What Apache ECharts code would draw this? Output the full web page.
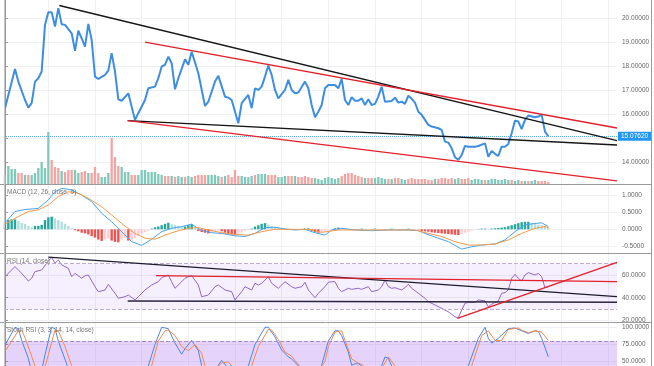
<!DOCTYPE html>
<html><head><meta charset="utf-8">
<script src="https://cdn.jsdelivr.net/npm/echarts@6/dist/echarts.min.js"></script>
<style>html,body{margin:0;padding:0;background:#fff}#c{width:654px;height:366px}</style>
</head><body><div id="c"></div>
<script>
// ---------- data (bar index, value) ----------
const priceLine = [[0,16.25],[3,17.89],[4,17.36],[6,16.59],[7,16.27],[8,16.46],[9,17.36],[10,17.50],[11,17.78],[12,19.73],[13,20.26],[14,20.26],[15,19.66],[16,20.43],[17,19.76],[18,19.73],[20,19.38],[21,18.65],[22,19.49],[23,19.17],[24,18.82],[25,19.77],[26,19.10],[27,17.57],[28,17.47],[30,17.64],[31,17.82],[32,18.55],[33,17.78],[34,16.62],[35,16.56],[37,16.87],[38,16.31],[39,15.76],[40,16.04],[42,16.59],[43,17.08],[45,17.15],[46,17.50],[47,17.99],[48,18.06],[49,18.40],[50,18.13],[51,17.04],[52,17.50],[54,18.29],[55,18.06],[56,18.61],[58,17.71],[60,16.34],[61,16.52],[63,17.36],[64,17.60],[66,16.73],[67,16.69],[68,16.59],[70,15.62],[71,16.46],[73,16.80],[74,16.25],[75,17.08],[76,17.01],[77,17.15],[78,17.57],[79,18.03],[80,17.64],[81,17.01],[82,16.66],[84,17.01],[85,17.43],[86,17.01],[87,16.87],[88,16.90],[90,17.36],[91,17.08],[92,16.38],[93,15.87],[94,16.10],[95,16.38],[96,17.08],[97,17.22],[99,17.22],[100,17.08],[101,17.47],[102,16.59],[103,16.38],[104,16.71],[105,16.56],[106,16.56],[107,16.66],[108,16.38],[109,16.62],[110,16.38],[111,16.43],[112,16.73],[113,17.15],[114,16.52],[116,16.55],[117,16.69],[118,16.48],[119,16.52],[120,16.43],[121,16.77],[122,16.64],[123,16.48],[124,16.10],[125,15.97],[127,15.55],[128,15.48],[130,15.41],[131,15.34],[132,14.85],[133,14.81],[134,14.57],[135,14.20],[136,14.09],[137,14.29],[138,14.67],[139,14.64],[141,14.64],[142,14.67],[144,14.78],[145,14.22],[146,14.46],[147,14.34],[148,14.25],[149,14.64],[150,14.64],[151,14.75],[152,15.20],[153,15.73],[154,15.69],[155,15.37],[156,15.76],[157,15.94],[159,15.87],[160,15.90],[161,15.97],[162,15.27],[163,15.0762]];
const lastPrice = 15.0762;

const trendBlackUpper = [[16.3,20.54],[183.6,14.89]];
const trendRedUpper   = [[42.0,19.01],[183.6,15.42]];
const trendBlackLower = [[36.8,15.73],[183.6,14.71]];
const trendRedLower   = [[36.8,15.73],[183.6,13.21]];

const volume = [9,18,15,15,11,11,9,9,9,11, 16,22,16,52,24,17,16,13,12,14, 14,14,11,12,13,11,11,17,11,7, 7,11,46,27,18,17,12,12,9,9, 9,14,14,12,12,12,10,9,8,8, 8,7,8,7,7,8,7,8,9,9, 9,9,9,9,8,7,8,9,7,14, 8,8,7,7,8,9,10,10,10,9, 9,9,7,7,8,8,8,8,7,7, 8,7,6,6,5,4,6,7,6,5, 6,8,10,11,11,9,8,7,6,6, 6,6,7,6,5,5,5,6,6,5, 4,5,6,5,5,5,5,4,4,5, 5,6,6,5,6,5,6,5,5,6, 4,5,5,4,4,4,5,5,4,4, 5,4,4,3,4,3,3,3,3,4, 3,3,3,2];
const volumeDir = "ggggrrgrgg"+"ggggrrrgrr"+"rggrrgrrrg"+"ggrrrgggrr"+"ggggggggrr"+"grggrggrrr"+"rggggrgrrr"+"rggggrgggr"+"rrgggrrgrr"+"rrrggggggg"+"grrrrrrrgr"+"rggggrgrrg"+"grrrrrrrrg"+"rrrrrggrrr"+"ggggrggggg"+"ggrggrgrgg"+"rrrr";

const macdLine = [[0,0.19],[3,0.52],[6,0.58],[10,0.61],[13,0.86],[15,1.10],[17,1.20],[20,1.15],[23,1.00],[26,0.81],[29,0.47],[32,0.22],[35,-0.07],[38,-0.36],[41,-0.47],[44,-0.29],[47,-0.07],[50,0.03],[53,0.08],[56,0.15],[59,-0.04],[62,-0.10],[65,-0.12],[69,-0.19],[72,-0.21],[75,-0.12],[78,0.05],[81,0.06],[84,0.01],[87,-0.02],[90,0.00],[93,-0.10],[96,-0.17],[98,-0.02],[101,0.03],[105,-0.02],[110,-0.04],[115,-0.02],[120,-0.02],[124,-0.04],[126,-0.12],[129,-0.23],[133,-0.36],[137,-0.58],[140,-0.51],[143,-0.46],[147,-0.43],[150,-0.31],[153,-0.07],[156,0.13],[159,0.17],[161,0.19],[163,0.08]];
const signalLine = [[0,0.15],[3,0.32],[7,0.52],[10,0.57],[13,0.71],[16,0.96],[19,1.10],[22,1.05],[25,0.91],[29,0.66],[32,0.42],[35,0.17],[39,-0.12],[42,-0.26],[45,-0.29],[48,-0.17],[51,-0.07],[55,0.03],[58,0.05],[61,-0.02],[65,-0.10],[69,-0.15],[73,-0.17],[77,-0.07],[81,0.00],[86,0.00],[91,0.00],[95,-0.09],[100,-0.02],[105,-0.02],[115,-0.02],[123,-0.02],[127,-0.12],[131,-0.21],[135,-0.36],[139,-0.46],[143,-0.46],[147,-0.43],[151,-0.31],[155,-0.12],[159,0.03],[162,0.08],[163,0.05]];
const macdHist = [0.19,0.27,0.29,0.29,0.24,0.19,0.16,0.10,0.06,0.10, 0.10,0.13,0.27,0.35,0.37,0.32,0.27,0.22,0.16,0.10, 0.03,-0.03,-0.06,-0.10,-0.12,-0.15,-0.20,-0.24,-0.30,-0.34, -0.30,-0.27,-0.33,-0.37,-0.38,-0.30,-0.25,-0.33,-0.33,-0.26, -0.20,-0.14,-0.08,-0.04,0.02,0.06,0.08,0.12,0.16,0.19, 0.15,0.12,0.10,0.08,0.08,0.12,0.15,0.05,-0.05,-0.08, -0.10,-0.12,-0.08,-0.05,-0.03,-0.06,-0.10,-0.13,-0.15,-0.16, -0.12,-0.08,-0.05,-0.02,0.02,0.08,0.12,0.16,0.18,0.14, 0.10,0.07,0.04,0.03,0.02,0.01,0.01,0.00,-0.01,-0.02, 0.02,0.03,-0.05,-0.08,-0.10,-0.08,-0.06,-0.04,-0.02,0.03, 0.05,0.04,0.02,0.01,0.00,-0.01,0.01,0.02,0.01,0.00, 0.01,0.02,0.01,0.00,-0.01,0.01,0.02,0.01,0.00,-0.01, 0.01,0.02,0.01,0.00,-0.01,-0.05,-0.06,-0.07,-0.09,-0.10, -0.11,-0.12,-0.13,-0.14,-0.15,-0.16,-0.17,-0.13,-0.10,-0.07, -0.04,-0.02,0.01,0.02,0.02,0.01,0.02,0.03,0.04,0.05, 0.06,0.09,0.12,0.15,0.18,0.21,0.22,0.22,0.19,0.17, 0.14,0.12,0.09,0.06];

const rsiLine = [[0,58.5],[3,67.4],[5,61.5],[7,54.7],[8,57.1],[9,63.0],[11,64.4],[13,72.4],[14,75.3],[15,70.4],[16,73.3],[17,68.9],[19,65.9],[20,58.5],[21,61.5],[23,57.1],[24,59.4],[25,60.0],[27,49.7],[28,45.3],[30,46.8],[31,51.8],[33,43.9],[34,39.5],[36,40.9],[37,42.4],[39,38.0],[40,40.9],[42,46.8],[44,51.2],[46,54.1],[47,57.7],[49,60.0],[50,54.1],[51,48.3],[53,54.1],[54,57.1],[55,58.5],[56,59.4],[58,51.2],[59,40.9],[61,42.4],[63,49.7],[64,51.2],[66,46.8],[68,45.3],[69,38.0],[71,45.3],[72,49.7],[74,46.8],[75,52.7],[76,51.2],[77,52.7],[79,58.5],[80,52.7],[82,48.3],[83,51.2],[84,54.1],[86,49.7],[87,48.3],[89,49.7],[90,53.6],[91,46.8],[93,40.0],[94,43.9],[96,49.7],[97,53.6],[98,54.1],[99,54.1],[100,48.3],[101,45.3],[103,48.3],[104,47.4],[106,48.3],[107,47.4],[109,49.7],[110,45.3],[112,46.8],[113,49.7],[114,55.6],[115,49.7],[116,48.3],[117,48.8],[119,46.8],[120,48.8],[121,51.8],[122,48.3],[124,43.9],[126,39.5],[127,36.5],[129,33.6],[131,30.6],[133,27.6],[135,23.2],[136,22.3],[137,29.1],[138,35.1],[139,35.9],[141,35.9],[142,38.0],[144,37.2],[145,32.1],[146,34.2],[147,35.9],[148,37.2],[149,43.9],[150,44.5],[151,46.8],[152,57.1],[153,60.6],[154,57.1],[155,54.7],[156,60.0],[157,62.1],[159,60.0],[160,61.5],[161,58.5],[162,48.8],[163,49.7]];
const rsiTrendBlackDown = [[13.0,75.7],[183.6,40.9]];
const rsiTrendRedFlat   = [[45.3,59.4],[183.6,54.1]];
const rsiTrendBlackFlat = [[36.8,37.1],[183.6,35.9]];
const rsiTrendRedUp     = [[135.7,21.8],[183.6,71.2]];

const stochK = [[0,74],[3,100],[4,98],[5,81],[7,55],[8,35],[10,15],[12,60],[14,100],[15,98],[16,80],[19,40],[22,10],[26,5],[30,20],[34,8],[38,15],[41,5],[43,44],[45,75],[47,100],[49,98],[51,77],[53,61],[54,69],[56,81],[58,66],[59,44],[61,30],[64,45],[65,52],[67,40],[70,20],[73,44],[75,75],[78,100],[79,100],[81,86],[83,67],[85,57],[86,54],[88,44],[91,20],[95,45],[97,80],[99,95],[100,95],[101,88],[103,64],[104,45],[105,47],[106,47],[107,44],[110,25],[113,44],[114,57],[115,55],[116,44],[120,20],[125,8],[130,3],[134,10],[139,44],[142,84],[144,100],[145,84],[146,77],[148,84],[151,98],[153,99],[155,95],[157,91],[159,95],[160,94],[161,84],[163,57]];
const stochD = [[0,65],[4,95],[5,96],[6,85],[8,58],[10,30],[11,25],[13,60],[15,96],[16,95],[18,72],[20,44],[23,15],[27,8],[31,16],[35,10],[39,12],[42,8],[44,44],[46,80],[48,95],[49,96],[51,88],[53,72],[55,66],[57,75],[59,62],[60,44],[62,35],[65,48],[67,50],[69,38],[71,25],[74,44],[76,72],[79,97],[80,96],[82,82],[84,64],[86,58],[87,52],[89,40],[92,25],[96,50],[97,72],[99,93],[101,95],[102,81],[104,54],[106,48],[107,46],[108,42],[111,28],[113,40],[115,57],[117,44],[121,22],[126,10],[131,5],[135,12],[140,44],[143,88],[145,95],[147,81],[149,81],[151,97],[154,99],[155,96],[157,92],[159,95],[161,93],[163,81]];

const weekTicks  = [13,27,41,55,69,83,97,111,125,139,153,167,181];
const priceTicks = [14,15,16,17,18,19,20];
const priceLabels= [14,16,17,18,19,20];
const macdTicks  = [-0.5,0,0.5,1];
const rsiTicks   = [20,40,60];
const stochTicks = [50,75,100];
const rsiBand = [30,70];
const stochBand = [20,80];

// ---------- styling ----------
const FONT = 'Liberation Sans, Arial, sans-serif';
const AX = '#9a9a9a', GRID = '#eef0f4';
const GREEN = '#7fc9bb', RED = '#f3a3a1';
const chart = echarts.init(document.getElementById('c'), null, {renderer:'canvas'});

const xMin = -0.3, xMax = 183.6;
function xAx(gi, split){
  return {type:'value', gridIndex:gi, min:xMin, max:xMax,
    axisLine:{show:false}, axisLabel:{show:false},
    axisTick:{show:false, customValues: weekTicks},
    splitLine:{show:split, lineStyle:{color:GRID, width:1}}};
}
function yAx(gi, min, max, ticks, labels, dec){
  return {type:'value', gridIndex:gi, position:'right', min:min, max:max,
    axisLine:{show:true, lineStyle:{color:AX, width:1}},
    axisTick:{show:true, length:3, lineStyle:{color:AX}, customValues: ticks},
    axisLabel:{customValues: labels, formatter: v => v.toFixed(dec), fontSize:6.5, color:'#666', margin:5, fontFamily:FONT},
    splitLine:{show:true, lineStyle:{color:GRID, width:1}}};
}
function seg(data, xi, color, w){
  return {type:'line', xAxisIndex:xi, yAxisIndex:xi, data:data, symbol:'none', silent:true,
    lineStyle:{color:color, width:w||1.4}, z:6};
}

const volData = volume.map((v,i)=>({value:[i,v], itemStyle:{color: volumeDir[i]==='g'?GREEN:RED}}));
const histData = macdHist.map((v,i)=>{
  const prev = i>0 ? macdHist[i-1] : v;
  let c;
  if (v >= 0) c = (v >= prev) ? '#26a69a' : '#b2dfdb';
  else c = (v < prev) ? '#ef5350' : '#ffcdd2';
  return {value:[i,v], itemStyle:{color:c}};
});

const option = {
  animation:false,
  backgroundColor:'#ffffff',
  textStyle:{fontFamily:FONT},
  title:[
    {text:'MACD (12, 26, close, 9)', left:7, top:189, padding:0, textStyle:{fontSize:6.5, fontWeight:'normal', color:'#777', fontFamily:FONT}},
    {text:'RSI (14, close)', left:7, top:258, padding:0, textStyle:{fontSize:6.5, fontWeight:'normal', color:'#777', fontFamily:FONT}},
    {text:'Stoch RSI (3, 3, 14, 14, close)', left:7, top:327, padding:0, textStyle:{fontSize:6.5, fontWeight:'normal', color:'#777', fontFamily:FONT}}
  ],
  grid:[
    {left:4, right:37, top:0, height:184},
    {left:4, right:37, top:84, height:100},
    {left:4, right:37, top:184, height:69},
    {left:4, right:37, top:253, height:69},
    {left:4, right:37, top:322, height:44}
  ],
  xAxis:[xAx(0,true), xAx(1,false), xAx(2,true), xAx(3,true), xAx(4,true)],
  yAxis:[
    yAx(0, 13.08, 20.77, priceTicks, priceLabels, 5),
    {type:'value', gridIndex:1, min:0, max:100, show:false, splitLine:{show:false}},
    yAx(2, -0.693, 1.325, macdTicks, macdTicks, 4),
    yAx(3, 18.6, 79.4, rsiTicks, rsiTicks, 4),
    yAx(4, 43.75, 107.7, stochTicks, stochTicks, 4)
  ],
  graphic:[
    {type:'line', shape:{x1:0,y1:184.5,x2:651,y2:184.5}, style:{stroke:AX, lineWidth:1}, z:50},
    {type:'line', shape:{x1:0,y1:253.5,x2:651,y2:253.5}, style:{stroke:AX, lineWidth:1}, z:50},
    {type:'line', shape:{x1:0,y1:322.5,x2:651,y2:322.5}, style:{stroke:AX, lineWidth:1}, z:50},
    {type:'line', shape:{x1:651.5,y1:0,x2:651.5,y2:366}, style:{stroke:AX, lineWidth:1}, z:50},
    {type:'line', shape:{x1:4.5,y1:0,x2:4.5,y2:366}, style:{stroke:'#c4c4c4', lineWidth:1}, z:50}
  ],
  series:[
    {type:'bar', xAxisIndex:1, yAxisIndex:1, data:volData, barWidth:2.3, silent:true, z:1},
    {type:'line', xAxisIndex:0, yAxisIndex:0, data:priceLine, symbol:'none', silent:true, z:5,
      lineStyle:{color:'#3d8ee3', width:2},
      markLine:{silent:true, symbol:['none','none'], precision:5,
        lineStyle:{type:'dotted', color:'#5fa3ec', width:1},
        label:{show:true, position:'end', distance:1, formatter: () => lastPrice.toFixed(5),
          backgroundColor:'#2196f3', color:'#fff', fontSize:6.5, padding:[1,3,1,3], fontFamily:FONT},
        data:[{yAxis:lastPrice}]}},
    seg(trendBlackUpper, 0, '#151515'),
    seg(trendRedUpper, 0, '#e3202b'),
    seg(trendBlackLower, 0, '#151515'),
    seg(trendRedLower, 0, '#e3202b'),
    {type:'bar', xAxisIndex:2, yAxisIndex:2, data:histData, barWidth:2.4, silent:true, z:2},
    {type:'line', xAxisIndex:2, yAxisIndex:2, data:macdLine, symbol:'none', silent:true, lineStyle:{color:'#4aa3ea', width:1}, z:4},
    {type:'line', xAxisIndex:2, yAxisIndex:2, data:signalLine, symbol:'none', silent:true, lineStyle:{color:'#f39a4c', width:1}, z:4},
    {type:'line', xAxisIndex:3, yAxisIndex:3, data:rsiLine, symbol:'none', silent:true, lineStyle:{color:'#9467c8', width:1}, z:4,
      markArea:{silent:true, itemStyle:{color:'rgba(150,80,240,0.09)'}, data:[[{yAxis:rsiBand[0]},{yAxis:rsiBand[1]}]]},
      markLine:{silent:true, symbol:['none','none'], label:{show:false}, lineStyle:{type:'dashed', color:'#bfaed3', width:1},
        data:[{yAxis:rsiBand[0]},{yAxis:rsiBand[1]}]}},
    {type:'line', xAxisIndex:3, yAxisIndex:3, data:rsiTrendBlackDown, symbol:'none', silent:true, lineStyle:{color:'#1c1c2e', width:1.3}, z:6},
    {type:'line', xAxisIndex:3, yAxisIndex:3, data:rsiTrendRedFlat, symbol:'none', silent:true, lineStyle:{color:'#e3202b', width:1.3}, z:6},
    {type:'line', xAxisIndex:3, yAxisIndex:3, data:rsiTrendBlackFlat, symbol:'none', silent:true, lineStyle:{color:'#2a2540', width:1.5}, z:6},
    {type:'line', xAxisIndex:3, yAxisIndex:3, data:rsiTrendRedUp, symbol:'none', silent:true, lineStyle:{color:'#e3202b', width:1.3}, z:6},
    {type:'line', xAxisIndex:4, yAxisIndex:4, data:stochK, symbol:'none', silent:true, lineStyle:{color:'#4a84f0', width:1}, z:4,
      markArea:{silent:true, itemStyle:{color:'rgba(150,80,240,0.25)'}, data:[[{yAxis:stochBand[0]},{yAxis:stochBand[1]}]]},
      markLine:{silent:true, symbol:['none','none'], label:{show:false}, lineStyle:{type:'dashed', color:'#a88fc4', width:1},
        data:[{yAxis:stochBand[1]}]}},
    {type:'line', xAxisIndex:4, yAxisIndex:4, data:stochD, symbol:'none', silent:true, lineStyle:{color:'#f5884a', width:1}, z:4}
  ]
};
chart.setOption(option);
</script></body></html>
